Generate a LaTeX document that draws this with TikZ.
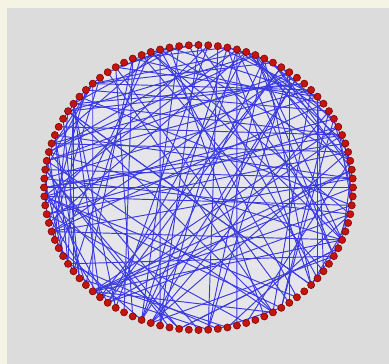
\documentclass[tikz,border=0pt]{standalone}
\definecolor{frame}{HTML}{F5F3E3}
\definecolor{panel}{HTML}{DCDCDC}
\definecolor{inner}{HTML}{E6E6EA}
\definecolor{edgeblue}{HTML}{3A3AE2}
\definecolor{dotred}{HTML}{C4140C}
\definecolor{dotrim}{HTML}{780000}
\tikzset{
  dot/.style={circle,fill=dotred,draw=dotrim,line width=0.5pt,minimum size=7.2pt,inner sep=0pt},
  edge/.style={draw=edgeblue,line width=0.95pt}
}
\begin{document}
\begin{tikzpicture}[x=1pt,y=-1pt]
\useasboundingbox (0,0) rectangle (389,364);
\fill[frame] (0,0) rectangle (389,364);
\fill[panel] (7,8) rectangle (389,364);
\fill[inner] (198.5,187.5) ellipse [x radius=154.5pt, y radius=142.5pt];
\foreach \k in {0,...,99}{
  \coordinate (n\k) at ({198.5+154.5*cos(90-3.6*\k)},{187.5-142.5*sin(90-3.6*\k)});
}
% long straight chords seen in the picture
\foreach \a/\b in {96/54,4/46,78/72,88/62,10/40,14/36,85/65,27/74,21/80,24/77,70/31,82/19,2/49,93/58,80/11,75/20}{
  \draw[edge] (n\a) -- (n\b);
}
\pgfmathsetseed{4711}
\foreach \i in {1,...,150}{
  \pgfmathtruncatemacro\a{random(0,99)}
  \pgfmathtruncatemacro\b{random(0,99)}
  \draw[edge] (n\a) -- (n\b);
}
\foreach \k in {0,...,99}{
  \node[dot] (d\k) at (n\k) {};
}
\end{tikzpicture}
\end{document}
